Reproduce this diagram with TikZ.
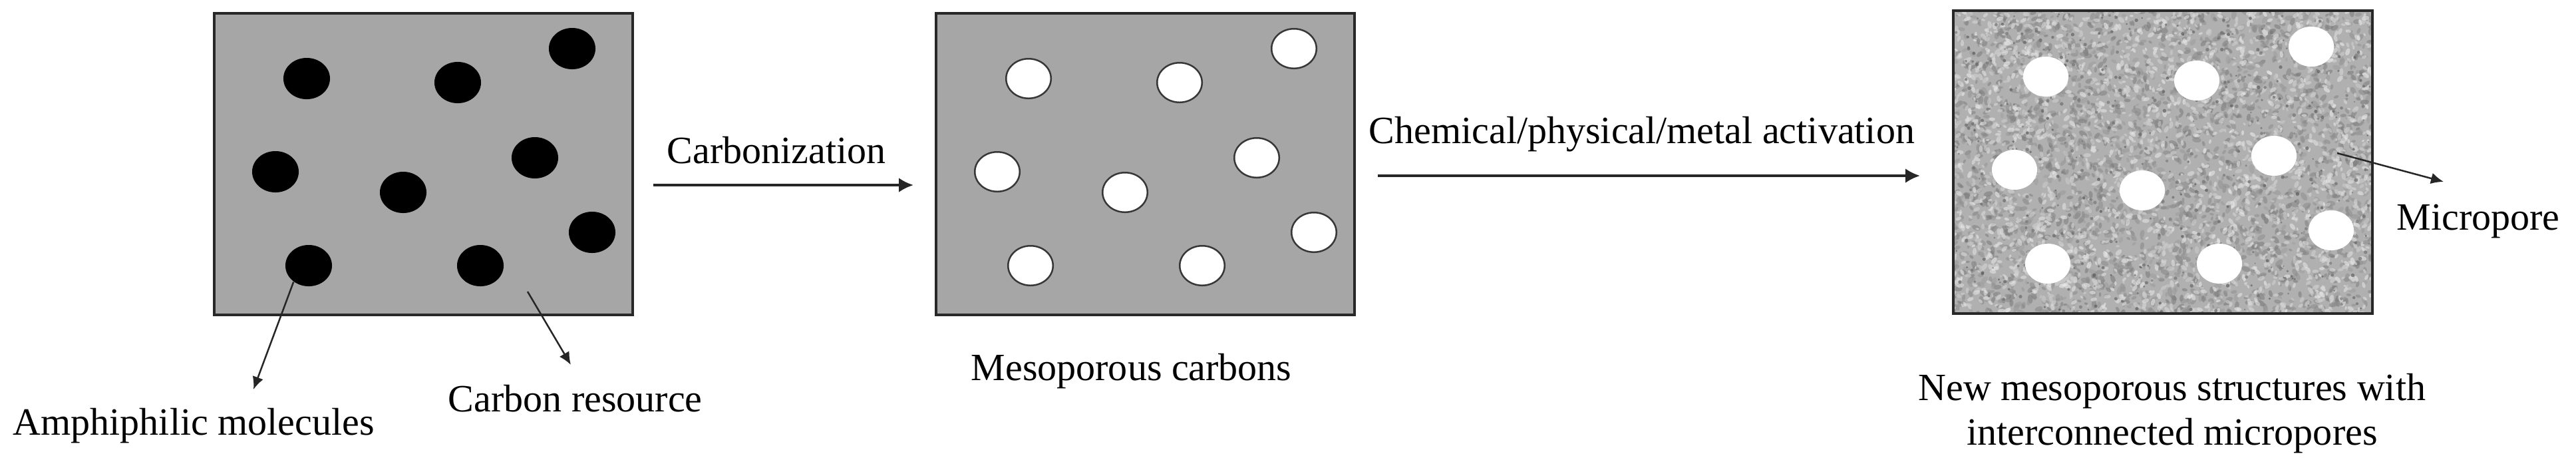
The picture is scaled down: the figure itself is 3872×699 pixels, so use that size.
\documentclass[tikz,border=0pt]{standalone}
\usepackage{fontspec}
\setmainfont{Liberation Serif}
\usetikzlibrary{arrows.meta,shapes.geometric,calc}
\definecolor{boxgray}{RGB}{166,166,166}
\definecolor{edge}{RGB}{40,40,40}
\definecolor{ringc}{RGB}{55,55,55}
\definecolor{texbase}{RGB}{176,176,176}
\begin{document}
\begin{tikzpicture}[x=0.01cm,y=-0.01cm,
  panel/.style={draw=edge, line width=0.04cm, minimum width=6.29cm, minimum height=4.53cm, inner sep=0, outer sep=0, anchor=north west},
  mol/.style={ellipse, fill=black, minimum width=0.70cm, minimum height=0.62cm, inner sep=0},
  meso/.style={ellipse, fill=white, draw=ringc, line width=0.025cm, minimum width=0.675cm, minimum height=0.595cm, inner sep=0},
  hole/.style={ellipse, fill=white, minimum width=0.68cm, minimum height=0.60cm, inner sep=0},
  lbl/.style={inner sep=0, font=\fontsize{16.5pt}{18.8pt}\selectfont},
  flow/.style={line width=0.04cm, draw=black!85, -{Latex[length=0.22cm,width=0.22cm]}},
  lead/.style={line width=0.025cm, draw=black!85, -{Latex[length=0.19cm,width=0.17cm]}}]

\useasboundingbox[fill=white] (0,0) rectangle (3872,699);

% panels
\node[panel, fill=boxgray] (box1) at (322,20) {};
\node[panel, fill=boxgray] (box2) at (1407,20) {};
\node[panel, fill=texbase, minimum width=6.30cm, minimum height=4.55cm] (box3) at (2936,16) {};

% texture of the activated carbon
\begin{scope}
\clip (box3.north west) rectangle (box3.south east);
\pgfmathsetseed{4242}
\foreach \i in {1,...,2600}{
  \pgfmathsetmacro\TXx{2936+630*rnd}
  \pgfmathsetmacro\TXy{16+456*rnd}
  \pgfmathtruncatemacro\TXg{38+16*rnd}
  \pgfmathsetmacro\TXa{180*rnd}
  \pgfmathsetmacro\TXr{0.03+0.04*rnd}
  \pgfmathsetmacro\TXs{0.55*\TXr}
  \fill[black!\TXg, fill opacity=0.55, shift={(\TXx,\TXy)}, rotate=\TXa] (0,0) ellipse [x radius=\TXr cm, y radius=\TXs cm];
}
\foreach \i in {1,...,2400}{
  \pgfmathsetmacro\TXx{2936+630*rnd}
  \pgfmathsetmacro\TXy{16+456*rnd}
  \pgfmathtruncatemacro\TXg{8+14*rnd}
  \pgfmathsetmacro\TXa{180*rnd}
  \pgfmathsetmacro\TXr{0.025+0.035*rnd}
  \pgfmathsetmacro\TXs{0.55*\TXr}
  \fill[black!\TXg, fill opacity=0.6, shift={(\TXx,\TXy)}, rotate=\TXa] (0,0) ellipse [x radius=\TXr cm, y radius=\TXs cm];
}
\foreach \i in {1,...,450}{
  \pgfmathsetmacro\TXx{2936+630*rnd}
  \pgfmathsetmacro\TXy{16+456*rnd}
  \pgfmathtruncatemacro\TXg{52+14*rnd}
  \pgfmathsetmacro\TXr{0.012+0.016*rnd}
  \fill[black!\TXg, fill opacity=0.7] (\TXx,\TXy) circle [radius=\TXr cm];
}
\end{scope}
\draw[edge, line width=0.04cm] (box3.north west) rectangle (box3.south east);

% pores
\foreach \n/\dx/\dy in {1/139/98, 2/366/104, 3/538/53, 4/92/238, 5/284/269, 6/482/217, 7/568/329, 8/142/379, 9/400/379}{
  \node[mol] (d\n) at ($(box1.north west)+(\dx,\dy)$) {};
  \node[meso] (m\n) at ($(box2.north west)+(\dx,\dy)$) {};
  \node[hole] (h\n) at ($(box3.north west)+(\dx,\dy+1)$) {};
}

% process arrows
\coordinate (a1s) at (982,278);
\coordinate (a1e) at (1373,278);
\draw[flow] (a1s) -- (a1e);
\coordinate (a2s) at (2071,264);
\coordinate (a2e) at (2886,264);
\draw[flow] (a2s) -- (a2e);

% labels
\node[lbl, anchor=base west] (tcarb) at (1002,245) {Carbonization};
\node[lbl, anchor=base west] (tact) at (2057,215) {Chemical/physical/metal activation};
\node[lbl, anchor=base west] (tamph) at (19,653) {Amphiphilic molecules};
\node[lbl, anchor=base west] (tcres) at (673,618) {Carbon resource};
\node[lbl, anchor=base west] (tmeso) at (1459,571) {Mesoporous carbons};
\node[lbl, anchor=base west] (tmicro) at (3602,345) {Micropore};
\node[lbl, anchor=north, align=center] (tnew) at (3265,561) {New mesoporous structures with\\interconnected micropores};

% leader arrows
\coordinate (l1e) at (381,585);
\draw[lead] (d8.227) -- (l1e);
\coordinate (l2s) at (793,438);
\coordinate (l2e) at (858,548);
\draw[lead] (l2s) -- (l2e);
\coordinate (l3s) at (3513,230);
\coordinate (l3e) at (3673,273);
\draw[lead] (l3s) -- (l3e);
\end{tikzpicture}
\end{document}
